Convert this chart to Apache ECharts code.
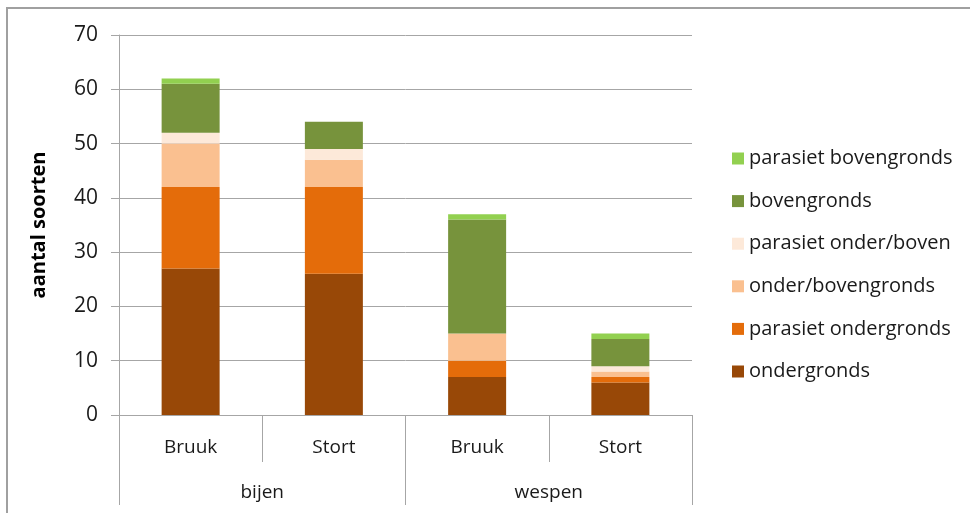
<!DOCTYPE html>
<html>
<head>
<meta charset="utf-8">
<script src="https://cdn.jsdelivr.net/npm/echarts@6/dist/echarts.min.js"></script>
<style>
  html, body { margin: 0; padding: 0; background: #fff; }
  #main { width: 970px; height: 513px; }
</style>
</head>
<body>
<div id="main"></div>
<script>
// categorieën (twee niveaus)
var plaatsen = ['Bruuk', 'Stort', 'Bruuk', 'Stort'];
var groepen = ['bijen', 'wespen'];

// aantallen per groep (onder naar boven gestapeld)
var ondergronds = [27, 26, 7, 6];
var parasietOndergronds = [15, 16, 3, 1];
var onderBovengronds = [8, 5, 5, 1];
var parasietOnderBoven = [2, 2, 0, 1];
var bovengronds = [9, 5, 21, 5];
var parasietBovengronds = [1, 0, 1, 1];

var yTicks = [0, 10, 20, 30, 40, 50, 60, 70];

var myChart = echarts.init(document.getElementById('main'));
var font = 'Open Sans';
var lijn = '#a6a6a6';
var tekst = '#1a1a1a';

function serie(naam, data, kleur) {
    return {
        name: naam,
        type: 'bar',
        stack: 'totaal',
        barWidth: 58,
        data: data,
        itemStyle: { color: kleur },
        emphasis: { disabled: true }
    };
}

var option = {
    animation: false,
    textStyle: { fontFamily: font },
    graphic: [{
        type: 'rect',
        shape: { x: 7, y: 8, width: 1000, height: 600 },
        style: { fill: 'none', stroke: '#a0a0a0', lineWidth: 2 },
        silent: true
    }],
    grid: { left: 119, right: 278, top: 35, bottom: 98 },
    legend: {
        orient: 'vertical',
        left: 727,
        top: 143,
        itemWidth: 12,
        itemHeight: 12,
        itemGap: 21.6,
        icon: 'rect',
        textStyle: { fontFamily: font, fontSize: 20, color: tekst, lineHeight: 21 },
        data: ['parasiet bovengronds', 'bovengronds', 'parasiet onder/boven',
               'onder/bovengronds', 'parasiet ondergronds', 'ondergronds']
    },
    xAxis: [{
        type: 'category',
        data: plaatsen,
        position: 'bottom',
        boundaryGap: true,
        axisLine: { show: true, lineStyle: { color: lijn, width: 1 } },
        axisTick: { show: true, length: 47, lineStyle: { color: lijn } },
        axisLabel: { fontSize: 19, color: tekst, margin: 23 }
    }, {
        type: 'category',
        data: groepen,
        position: 'bottom',
        offset: 47,
        boundaryGap: true,
        axisLine: { show: false },
        axisTick: { show: true, length: 43, lineStyle: { color: lijn } },
        axisLabel: { fontSize: 19, color: tekst, margin: 21 }
    }],
    yAxis: {
        type: 'value',
        min: yTicks[0],
        max: yTicks[yTicks.length - 1],
        interval: 10,
        name: 'aantal soorten',
        nameLocation: 'middle',
        nameGap: 70,
        nameTextStyle: { fontSize: 20, fontWeight: 'bold', color: '#000', fontFamily: font },
        axisLine: { show: true, lineStyle: { color: lijn } },
        axisTick: { show: true, length: 8, lineStyle: { color: lijn } },
        axisLabel: { fontSize: 21, color: tekst, margin: 21 },
        splitLine: { lineStyle: { color: lijn } }
    },
    series: [
        serie('ondergronds', ondergronds, '#984807'),
        serie('parasiet ondergronds', parasietOndergronds, '#e46c0a'),
        serie('onder/bovengronds', onderBovengronds, '#fac090'),
        serie('parasiet onder/boven', parasietOnderBoven, '#fde9d9'),
        serie('bovengronds', bovengronds, '#77933c'),
        serie('parasiet bovengronds', parasietBovengronds, '#92d050')
    ]
};
myChart.setOption(option);
</script>
</body>
</html>
